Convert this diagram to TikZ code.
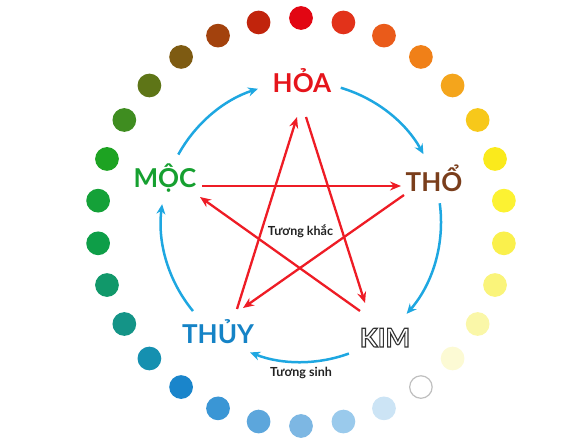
\documentclass[tikz,border=0pt]{standalone}
\usepackage{fontspec}
\setmainfont{Lato}
\usetikzlibrary{arrows.meta}
\definecolor{dc0}{HTML}{E20613}
\definecolor{dc1}{HTML}{E2321A}
\definecolor{dc2}{HTML}{EA5B1A}
\definecolor{dc3}{HTML}{F08018}
\definecolor{dc4}{HTML}{F4A51C}
\definecolor{dc5}{HTML}{F7C81A}
\definecolor{dc6}{HTML}{FAEA1C}
\definecolor{dc7}{HTML}{FCF232}
\definecolor{dc8}{HTML}{FAF04C}
\definecolor{dc9}{HTML}{FAF47A}
\definecolor{dc10}{HTML}{FAF7A8}
\definecolor{dc11}{HTML}{FCFAD4}
\definecolor{dc12}{HTML}{FFFFFF}
\definecolor{dc13}{HTML}{CCE4F5}
\definecolor{dc14}{HTML}{9ACAEC}
\definecolor{dc15}{HTML}{7DB7E3}
\definecolor{dc16}{HTML}{5CA6DC}
\definecolor{dc17}{HTML}{3A96D5}
\definecolor{dc18}{HTML}{1A85CB}
\definecolor{dc19}{HTML}{1590B0}
\definecolor{dc20}{HTML}{149487}
\definecolor{dc21}{HTML}{11986A}
\definecolor{dc22}{HTML}{0E9E48}
\definecolor{dc23}{HTML}{14A138}
\definecolor{dc24}{HTML}{1DA322}
\definecolor{dc25}{HTML}{3F8D20}
\definecolor{dc26}{HTML}{5E7517}
\definecolor{dc27}{HTML}{7E5B12}
\definecolor{dc28}{HTML}{A3420D}
\definecolor{dc29}{HTML}{C1240C}
\definecolor{hoared}{HTML}{E5141B}
\definecolor{mocgreen}{HTML}{16A030}
\definecolor{thobrown}{HTML}{7A3E1C}
\definecolor{thuyblue}{HTML}{1583C6}
\definecolor{kimgray}{HTML}{333333}
\definecolor{notegray}{HTML}{222222}
\definecolor{sinhblue}{HTML}{1EA7E1}
\definecolor{khacred}{HTML}{EE1C25}
\newcommand{\outlinetext}[1]{\special{pdf:literal direct 1 Tr 1.1 w}#1\special{pdf:literal direct 0 Tr}}
\begin{document}
\begin{tikzpicture}[x=1pt,y=1pt,
  dot/.style={circle,minimum size=22.5pt,inner sep=0pt,line width=1.2pt},
  sinh/.style={draw=sinhblue,line width=2.5pt,-{Stealth[length=10pt,width=9pt]}},
  khac/.style={draw=khacred,line width=2.3pt,-{Stealth[length=11pt,width=9pt]}},
  elem/.style={font=\fontsize{26}{26}\selectfont\bfseries,anchor=base,inner sep=0pt},
  note/.style={font=\fontsize{12.5}{12.5}\selectfont\bfseries,anchor=base,inner sep=0pt,text=notegray}]
\useasboundingbox (0,0) rectangle (573,446);
\coordinate (O) at (301,224);
\foreach \i in {0,...,29}{
  \ifnum\i=12\relax\def\dd{lightgray}\else\def\dd{dc\i}\fi
  \node[dot,fill=dc\i,draw=\dd] (d\i) at ([shift={({90-12*\i}:204)}]O) {};
}
\node[elem,text=hoared] (hoa) at (302,353) {HỎA};
\node[elem,text=mocgreen] (moc) at (165,258) {MỘC};
\node[elem,text=thobrown] (tho) at (434,254) {THỔ};
\node[elem,text=thuyblue] (thuy) at (218,102) {THỦY};
\node[elem,text=kimgray] (kim) at (385,99) {\outlinetext{KIM}};
\node[note] (khac) at (300.5,210) {Tương khắc};
\node[note] (sinh) at (301,69) {Tương sinh};
% Tuong sinh arcs
\draw[sinh] ([shift={(73.5:140)}]O) arc[start angle=73.5,end angle=29,radius=140];
\draw[sinh] ([shift={(7.7:140)}]O) arc[start angle=7.7,end angle=-41,radius=140];
\draw[sinh] ([shift={(-70:140)}]O) arc[start angle=-70,end angle=-111.3,radius=140];
\draw[sinh] ([shift={(219.5:140)}]O) arc[start angle=219.5,end angle=172.7,radius=140];
\draw[sinh] ([shift={(151.2:140)}]O) arc[start angle=151.2,end angle=107.9,radius=140];
% Tuong khac star
\draw[khac] ([shift={(37,2)}]moc.base) -- ([shift={(-33,6)}]tho.base);
\draw[khac] ([shift={(-30,-3)}]tho.base) -- ([shift={(25,36)}]thuy.base);
\draw[khac] ([shift={(19,35)}]thuy.base) -- ([shift={(-5,-24)}]hoa.base);
\draw[khac] ([shift={(4,-24)}]hoa.base) -- ([shift={(-20,44)}]kim.base);
\draw[khac] ([shift={(-25,36)}]kim.base) -- ([shift={(35,-9)}]moc.base);
\end{tikzpicture}
\end{document}
